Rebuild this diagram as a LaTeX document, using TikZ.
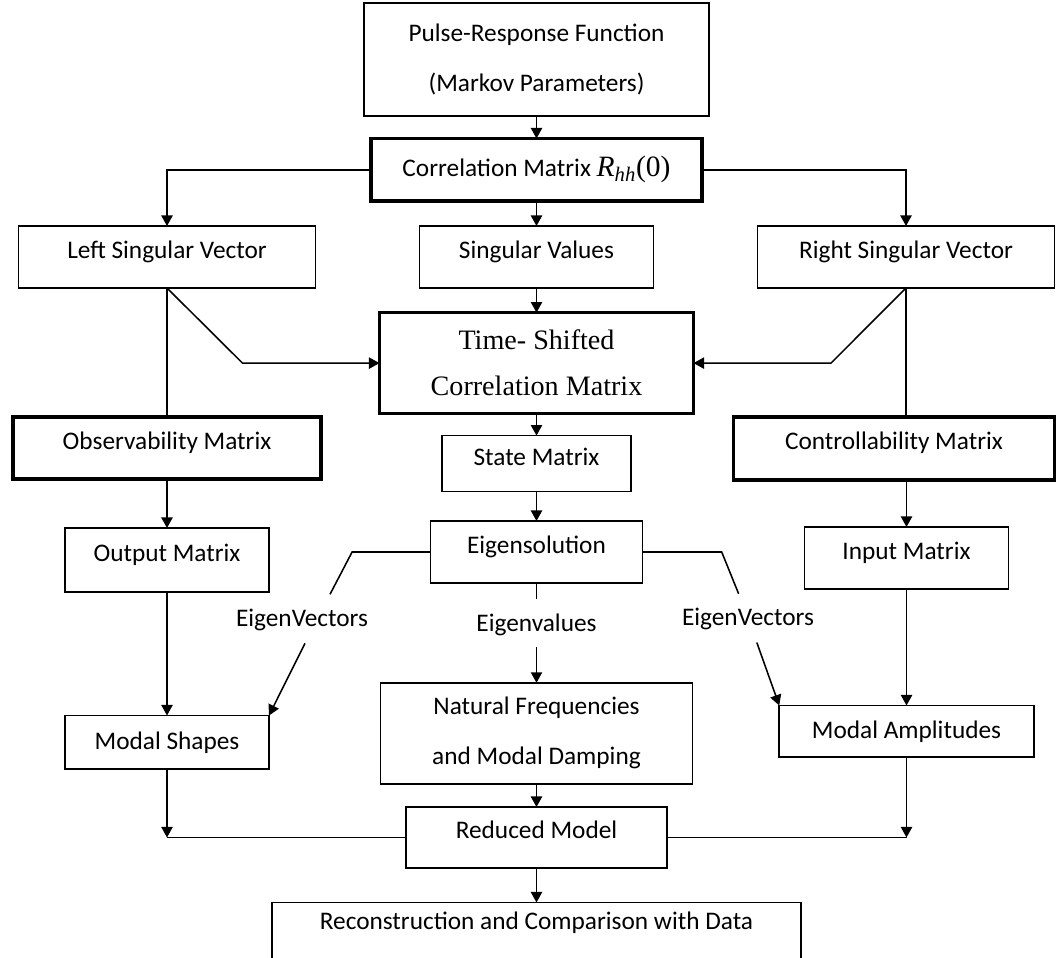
\documentclass[tikz,border=0pt]{standalone}
\usepackage{fontspec}
\setmainfont{Carlito}
\newfontfamily\tsfont{Liberation Serif}
\usetikzlibrary{positioning}
\usetikzlibrary{graphs}
\usetikzlibrary{calc}
\usetikzlibrary{arrows.meta}
\tikzset{
    box/.style={draw, inner sep=0pt, outer sep=0pt, align=center},
    boldbox/.style={box, line width=2.6pt},
    oneline/.style={text height=14pt, text depth=12pt},
    twoline/.style={font=\fontsize{18pt}{36pt}\selectfont},
    lbl/.style={inner sep=0pt}
}

\begin{document}
\begin{tikzpicture}[font=\fontsize{18pt}{21.6pt}\selectfont, line width=1.1pt,
        >={Triangle[length=7.5pt,width=8pt]}]
            \useasboundingbox (0,0) rectangle (26.425,-23.925);

            \node (pulse) [box, twoline, minimum width=8.625cm, minimum height=2.825cm] at (13.4125,-1.4875)
                {Pulse-Response Function\\(Markov Parameters)};
            \node (corr)  [boldbox, minimum width=8.275cm, minimum height=1.5625cm, below=0.5625cm of pulse]
                {Correlation Matrix {\tsfont\fontsize{21pt}{24pt}\selectfont\textit{R}\textsubscript{\textit{hh}}(0)}};
            \node (sv)    [box, oneline, minimum width=5.85cm, minimum height=1.55cm, below=0.625cm of corr] {Singular Values};
            \node (lsv)   [box, oneline, minimum width=7.425cm, minimum height=1.55cm, left=2.6cm of sv] {Left Singular Vector};
            \node (rsv)   [box, oneline, minimum width=7.425cm, minimum height=1.55cm, right=2.6cm of sv] {Right Singular Vector};
            \node (ts)    [boldbox, font=\tsfont\fontsize{20pt}{32.6pt}\selectfont, minimum width=7.85cm, minimum height=2.525cm,
                below=0.615cm of sv] {Time- Shifted\\Correlation Matrix};
            \node (state) [box, oneline, minimum width=4.7125cm, minimum height=1.4cm, below=0.55cm of ts] {State Matrix};
            \node (eig)   [box, oneline, minimum width=5.3cm, minimum height=1.55cm, below=0.735cm of state] {Eigensolution};
            \node (nat)   [box, font=\fontsize{18pt}{35.5pt}\selectfont, minimum width=7.8cm, minimum height=2.525cm,
                below=2.495cm of eig] {Natural Frequencies\\and Modal Damping};
            \node (red)   [box, oneline, minimum width=6.5375cm, minimum height=1.525cm, below=0.58cm of nat] {Reduced Model};
            \node (recon) [box, text height=14pt, text depth=32pt, minimum width=13.225cm, minimum height=2cm,
                below=0.8625cm of red] {Reconstruction and Comparison with Data};

            \node (obs)   [boldbox, oneline, minimum width=7.7125cm, minimum height=1.55cm, below=3.225cm of lsv] {Observability Matrix};
            \node (out)   [box, oneline, minimum width=5.1cm, minimum height=1.6cm, below=1.225cm of obs] {Output Matrix};
            \node (ms)    [box, minimum width=5.1cm, minimum height=1.3375cm, below=3.0875cm of out] {Modal Shapes};
            \node (ctrl)  [boldbox, oneline, minimum width=8.025cm, minimum height=1.575cm, below=3.225cm of rsv, xshift=-0.3cm]
                {Controllability Matrix};
            \node (inp)   [box, oneline, minimum width=5.1cm, minimum height=1.55cm, below=1.175cm of ctrl, xshift=0.3125cm] {Input Matrix};
            \node (ma)    [box, minimum width=6.3625cm, minimum height=1.2875cm, below=2.9125cm of inp] {Modal Amplitudes};

            \node (evl)   [lbl, below left=1.6875cm and 3.2125cm of eig.west, anchor=center] {EigenVectors};
            \node (evr)   [lbl, below right=1.6725cm and 2.6375cm of eig.east, anchor=center] {EigenVectors};
            \node (evals) [lbl, below=1.035cm of eig, anchor=center] {Eigenvalues};

            \graph{
                (pulse) -> (corr) -> (sv) -> (ts) -> (state) -> (eig);
                (nat) -> (red) -> (recon);
                (obs) -> (out) -> (ms);
                (inp) -> (ma);
            };

            \draw[->] (corr.west) -| (lsv.north);
            \draw[->] (corr.east) -| (rsv.north);
            \draw[->] (lsv.south) -- ([xshift=-3.425cm]ts.west) -- (ts.west);
            \draw[->] (rsv.south) -- ([xshift=3.4375cm]ts.east) -- (ts.east);
            \draw (lsv.south) -- (lsv.south |- obs.north);
            \draw (rsv.south) -- (rsv.south |- ctrl.north);
            \draw[->] (inp.north |- ctrl.south) -- (inp.north);

            \draw (eig.west) -- ++(-1.96cm,0) -- ([shift={(0.7cm,0.63cm)}]evl.center);
            \draw[->] ([shift={(0.075cm,-0.595cm)}]evl.center) -- (ms.north east);
            \draw (eig.east) -- ++(1.98cm,0) -- ([shift={(-0.235cm,0.63cm)}]evr.center);
            \draw[->] ([shift={(0.22cm,-0.59cm)}]evr.center) -- (ma.north west);
            \draw (eig.south) -- ([yshift=0.645cm]evals.center);
            \draw[->] ([yshift=-0.575cm]evals.center) -- (nat.north);

            \draw[->] (ms.south) -- (ms.south |- red.west);
            \draw (red.west) -- (ms.south |- red.west);
            \draw[->] (ma.south) -- (ma.south |- red.east);
            \draw (red.east) -- (ma.south |- red.east);
        \end{tikzpicture}
\end{document}
